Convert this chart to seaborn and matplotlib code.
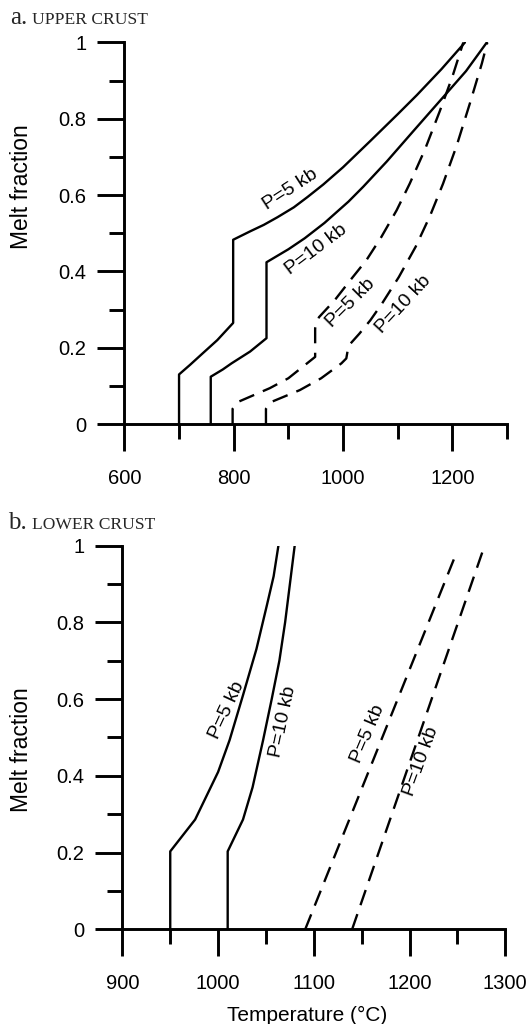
import matplotlib
matplotlib.use("Agg")
import matplotlib.pyplot as plt
import seaborn as sns

# ---------------- data ----------------
# a. Upper crust  (temperature in deg C, melt fraction)
upper_solid5_T = [700, 700, 720, 743, 770, 799, 799, 830, 855, 880, 910, 935, 964, 1000, 1050, 1100, 1135, 1180, 1223]
upper_solid5_F = [0, 0.13, 0.155, 0.185, 0.22, 0.265, 0.483, 0.505, 0.522, 0.542, 0.568, 0.595, 0.628, 0.673, 0.742, 0.812, 0.862, 0.93, 1.0]

upper_solid10_T = [758, 758, 780, 796, 830, 860, 860, 900, 930, 966, 1010, 1037, 1080, 1130, 1184, 1225, 1263]
upper_solid10_F = [0, 0.124, 0.143, 0.159, 0.19, 0.225, 0.424, 0.458, 0.487, 0.527, 0.583, 0.622, 0.688, 0.77, 0.858, 0.925, 1.0]

upper_dash5_T = [798, 798, 808, 866, 900, 949, 949, 956, 985, 1015, 1043, 1070, 1098, 1122, 1150, 1177, 1200, 1220]
upper_dash5_F = [0, 0.04, 0.058, 0.094, 0.12, 0.176, 0.251, 0.28, 0.325, 0.38, 0.43, 0.49, 0.56, 0.63, 0.72, 0.82, 0.91, 1.0]

upper_dash10_T = [859, 859, 869, 921, 960, 997, 1006, 1010, 1030, 1050, 1071, 1102, 1133, 1159, 1183, 1208, 1232, 1254, 1264]
upper_dash10_F = [0, 0.04, 0.058, 0.089, 0.12, 0.159, 0.172, 0.205, 0.237, 0.272, 0.315, 0.385, 0.465, 0.545, 0.63, 0.73, 0.84, 0.945, 1.0]

# b. Lower crust
lower_solid5_T = [950, 950, 976, 1000, 1012, 1026, 1040, 1051, 1058, 1063]
lower_solid5_F = [0, 0.203, 0.286, 0.41, 0.493, 0.61, 0.73, 0.845, 0.92, 1.0]

lower_solid10_T = [1010, 1010, 1026, 1036, 1047, 1056, 1064, 1070, 1075, 1080]
lower_solid10_F = [0, 0.203, 0.286, 0.37, 0.493, 0.60, 0.70, 0.80, 0.90, 1.0]

lower_dash5_T = [1091, 1248]
lower_dash5_F = [0, 0.975]

lower_dash10_T = [1140, 1277]
lower_dash10_F = [0, 0.99]

curve_labels = ["P=5 kb", "P=10 kb", "P=5 kb", "P=10 kb"]
upper_label_T = [904, 950, 1014, 1110]
upper_label_F = [0.615, 0.456, 0.318, 0.313]
upper_label_rot = [33, 37, 45, 47]
lower_label_T = [1009, 1068, 1156, 1212]
lower_label_F = [0.572, 0.541, 0.508, 0.437]
lower_label_rot = [65, 78, 67, 70]

upper_xmajor = [600, 800, 1000, 1200]
upper_xminor = [700, 900, 1100, 1300]
lower_xmajor = [900, 1000, 1100, 1200, 1300]
lower_xminor = [950, 1050, 1150, 1250]
ymajor = [0, 0.2, 0.4, 0.6, 0.8, 1.0]
ymajor_labels = ["0", "0.2", "0.4", "0.6", "0.8", "1"]
yminor = [0.1, 0.3, 0.5, 0.7, 0.9]

# ---------------- style ----------------
sns.set_style("ticks")
plt.rcParams['font.family'] = ['Liberation Sans', 'DejaVu Sans']

LW = 1.7
DASH = (0, (6.8, 4.0))

fig = plt.figure(figsize=(5.3, 10.24), dpi=100)
ax1 = fig.add_axes([0.2347, 0.5859, 0.7219, 0.3726])
ax2 = fig.add_axes([0.2309, 0.0925, 0.7225, 0.3747])


def draw(ax, T, F, dashed):
    sns.lineplot(x=T, y=F, ax=ax, sort=False, estimator=None, color="black",
                 linewidth=LW, linestyle=DASH if dashed else "-", legend=False)


def style(ax, xlim, xmajor, xminor):
    ax.set_xlim(*xlim)
    ax.set_ylim(0, 1)
    ax.set_xticks(xmajor)
    ax.set_xticks(xminor, minor=True)
    ax.set_yticks(ymajor)
    ax.set_yticklabels(ymajor_labels)
    ax.set_yticks(yminor, minor=True)
    sns.despine(ax=ax)
    for s in ["left", "bottom"]:
        ax.spines[s].set_linewidth(2.1)
        ax.spines[s].set_color("black")
    ax.tick_params(which="major", length=19.7, width=2.1, color="black",
                   labelsize=14.5, labelcolor="black", direction="out")
    ax.tick_params(which="minor", length=11, width=2.1, color="black", direction="out")
    ax.tick_params(axis="x", which="major", pad=12.8)
    ax.tick_params(axis="y", which="major", pad=7.5)
    ax.grid(False)
    ax.set_xlabel("")


# upper crust
draw(ax1, upper_solid5_T, upper_solid5_F, False)
draw(ax1, upper_solid10_T, upper_solid10_F, False)
draw(ax1, upper_dash5_T, upper_dash5_F, True)
draw(ax1, upper_dash10_T, upper_dash10_F, True)
style(ax1, (600, 1300), upper_xmajor, upper_xminor)
for t, x, y, r in zip(curve_labels, upper_label_T, upper_label_F, upper_label_rot):
    ax1.text(x, y, t, rotation=r, rotation_mode="anchor", ha="center", va="center",
             fontsize=14, color="black")

# lower crust
draw(ax2, lower_solid5_T, lower_solid5_F, False)
draw(ax2, lower_solid10_T, lower_solid10_F, False)
draw(ax2, lower_dash5_T, lower_dash5_F, True)
draw(ax2, lower_dash10_T, lower_dash10_F, True)
style(ax2, (900, 1300), lower_xmajor, lower_xminor)
for t, x, y, r in zip(curve_labels, lower_label_T, lower_label_F, lower_label_rot):
    ax2.text(x, y, t, rotation=r, rotation_mode="anchor", ha="center", va="center",
             fontsize=14, color="black")

# axis labels
ax1.set_ylabel("Melt fraction", fontsize=16.5, va="center", color="black")
ax1.yaxis.set_label_coords(-0.268, 0.6225)
ax2.set_ylabel("Melt fraction", fontsize=16.5, va="center", color="black")
ax2.yaxis.set_label_coords(-0.263, 0.467)
ax2.set_xlabel("Temperature (°C)", fontsize=15, va="center", color="black")
ax2.xaxis.set_label_coords(0.4837, -0.2247)

# panel titles
serif = ["Liberation Serif", "DejaVu Serif"]
fig.text(10.1 / 530, 1 - 24.3 / 1024, "a.", fontsize=18, family=serif, va="baseline", ha="left")
fig.text(32.1 / 530, 1 - 24.3 / 1024, "UPPER CRUST", fontsize=12.6, family=serif, va="baseline", ha="left")
fig.text(8.5 / 530, 1 - 528.7 / 1024, "b.", fontsize=18, family=serif, va="baseline", ha="left")
fig.text(32.1 / 530, 1 - 528.7 / 1024, "LOWER CRUST", fontsize=12.6, family=serif, va="baseline", ha="left")

fig.savefig("out.png", dpi=100, facecolor="white")
